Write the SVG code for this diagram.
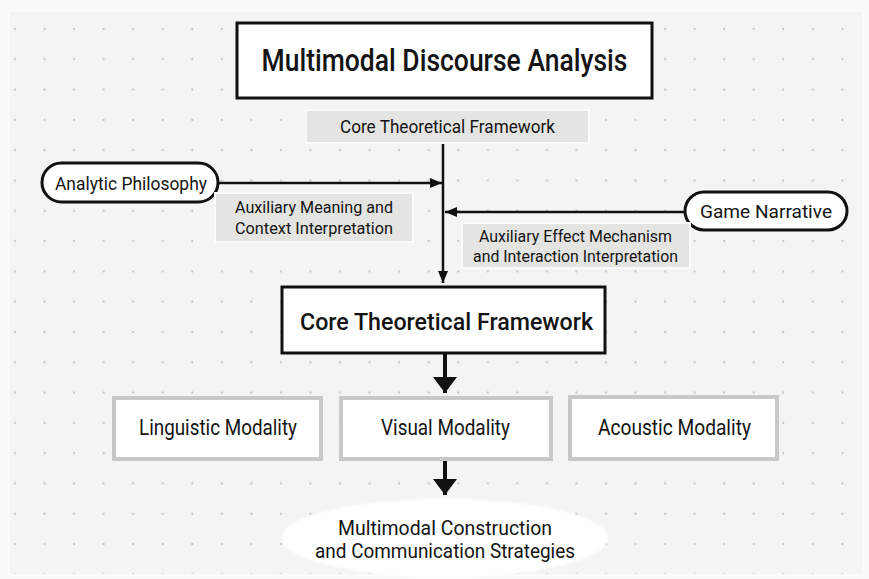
<svg xmlns="http://www.w3.org/2000/svg" width="869" height="579" viewBox="0 0 869 579">
<defs>
<pattern id="dots" x="0" y="-1.3" width="29.55" height="30.3" patternUnits="userSpaceOnUse">
<circle cx="15" cy="0" r="1.1" fill="#c2c2c2"/>
<circle cx="15" cy="30.3" r="1.1" fill="#c2c2c2"/>
</pattern>
<marker id="ah" viewBox="0 0 12 10" refX="12" refY="5" markerWidth="12" markerHeight="10" markerUnits="userSpaceOnUse" orient="auto">
<path d="M0,0 L12,5 L0,10 Z" fill="#111"/>
</marker>
<marker id="ahb" viewBox="0 0 16 24" refX="16" refY="12" markerWidth="16" markerHeight="24" markerUnits="userSpaceOnUse" orient="auto">
<path d="M0,0 L16,12 L0,24 Z" fill="#111"/>
</marker>
<filter id="soft" x="-10%" y="-20%" width="120%" height="140%">
<feGaussianBlur stdDeviation="1.2"/>
</filter>
</defs>
<style>
text{font-family:Roboto,"Liberation Sans",Arial,sans-serif;fill:#141414;text-anchor:middle}
.main{fill:#fff;stroke:#111;stroke-width:3}
.pill{fill:#fff;stroke:#111;stroke-width:3}
.lab{fill:#e4e4e2;stroke:#fbfbfb;stroke-width:2}
.mod{fill:#fff;stroke:#c8c8c6;stroke-width:4}
.ln{stroke:#111;stroke-width:2.5;fill:none}
.thick{stroke:#111;stroke-width:4;fill:none}
</style>
<rect x="0" y="0" width="869" height="579" fill="#fbfbfa"/>
<rect x="10" y="12" width="852" height="562" fill="#f4f4f2"/>
<rect x="10" y="12" width="852" height="562" fill="url(#dots)"/>

<g id="connectors">
<line class="ln" x1="443" y1="143" x2="443" y2="283" marker-end="url(#ah)"/>
<line class="ln" x1="218" y1="183" x2="442" y2="183" marker-end="url(#ah)"/>
<line class="ln" x1="685" y1="212" x2="445" y2="212" marker-end="url(#ah)"/>
<line class="thick" x1="445" y1="353" x2="445" y2="393" marker-end="url(#ahb)"/>
<line class="thick" x1="445" y1="460" x2="445" y2="495" marker-end="url(#ahb)"/>
</g>

<g id="title">
<rect class="main" x="237" y="23" width="415" height="75"/>
<text x="444.5" y="71" font-size="31" font-weight="500" textLength="366" lengthAdjust="spacingAndGlyphs">Multimodal Discourse Analysis</text>
</g>

<g id="core-label">
<rect class="lab" x="306" y="110" width="283" height="33"/>
<text x="447.5" y="133" font-size="18" textLength="215" lengthAdjust="spacingAndGlyphs">Core Theoretical Framework</text>
</g>

<g id="analytic">
<rect class="pill" x="42" y="163" width="176" height="39" rx="19.5"/>
<text x="131" y="190" font-size="18.5" textLength="152" lengthAdjust="spacingAndGlyphs">Analytic Philosophy</text>
</g>

<g id="aux-meaning">
<rect class="lab" x="215" y="193" width="198" height="49" fill="#e8e8e6"/>
<text x="314" y="213" font-size="16.5" textLength="158" lengthAdjust="spacingAndGlyphs">Auxiliary Meaning and</text>
<text x="314" y="234" font-size="16.5" textLength="158" lengthAdjust="spacingAndGlyphs">Context Interpretation</text>
</g>

<g id="game">
<rect class="pill" x="685" y="192" width="162" height="38" rx="19"/>
<text x="766" y="218" font-size="19" textLength="132" lengthAdjust="spacingAndGlyphs">Game Narrative</text>
</g>

<g id="aux-effect">
<rect class="lab" x="462" y="223" width="228" height="45" fill="#e8e8e6"/>
<text x="575.5" y="242" font-size="16.5" textLength="193" lengthAdjust="spacingAndGlyphs">Auxiliary Effect Mechanism</text>
<text x="575.5" y="262" font-size="16.5" textLength="205" lengthAdjust="spacingAndGlyphs">and Interaction Interpretation</text>
</g>

<g id="core">
<rect class="main" x="282" y="287" width="323" height="66"/>
<text x="446.5" y="330" font-size="24.5" font-weight="500" textLength="293" lengthAdjust="spacingAndGlyphs">Core Theoretical Framework</text>
</g>

<g id="linguistic">
<rect class="mod" x="114" y="398" width="207" height="61"/>
<text x="218" y="435" font-size="21.5" textLength="158" lengthAdjust="spacingAndGlyphs">Linguistic Modality</text>
</g>

<g id="visual">
<rect class="mod" x="341" y="398" width="210" height="61"/>
<text x="445.5" y="435" font-size="21.5" textLength="129" lengthAdjust="spacingAndGlyphs">Visual Modality</text>
</g>

<g id="acoustic">
<rect class="mod" x="570" y="397" width="207" height="62"/>
<text x="674.5" y="435" font-size="21.5" textLength="153" lengthAdjust="spacingAndGlyphs">Acoustic Modality</text>
</g>

<g id="strategies">
<ellipse cx="445" cy="538" rx="163" ry="39" fill="#ffffff" filter="url(#soft)"/>
<text x="445" y="535" font-size="19.5" textLength="214" lengthAdjust="spacingAndGlyphs">Multimodal Construction</text>
<text x="445" y="558" font-size="19.5" textLength="260" lengthAdjust="spacingAndGlyphs">and Communication Strategies</text>
</g>
</svg>
